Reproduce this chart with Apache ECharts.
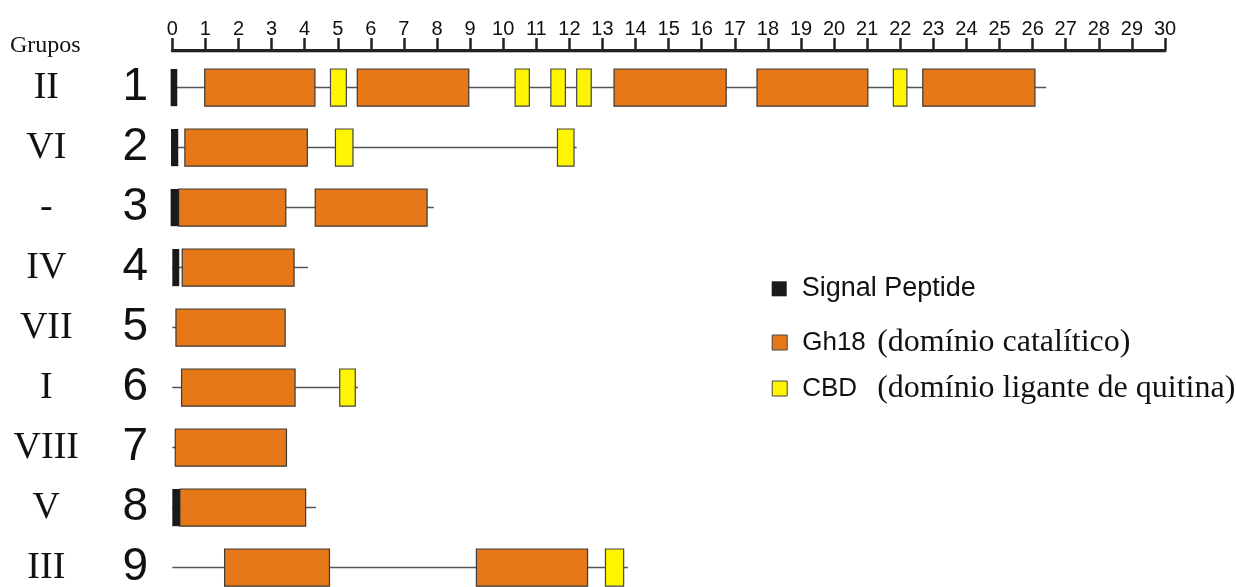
<!DOCTYPE html>
<html><head><meta charset="utf-8">
<script src="https://cdn.jsdelivr.net/npm/echarts@6/dist/echarts.min.js"></script>
<style>html,body{margin:0;padding:0;background:#fff}#c{width:1236px;height:587px}</style>
</head><body><div id="c"></div>
<script>
const proteins = ['1','2','3','4','5','6','7','8','9'];
const groups = ['II','VI','-','IV','VII','I','VIII','V','III'];
// [row, start, end]
const backbone = [[0,0,26.41],[1,0,12.22],[2,0,7.9],[3,0,4.1],[4,0,3.41],[5,0,5.61],[6,0,3.45],[7,0,4.34],[8,0,13.77]];
const signalPeptide = [[0,-0.05,0.15],[1,-0.04,0.18],[2,-0.05,0.19],[3,0,0.21],[7,0,0.23]];
const gh18 = [[0,0.98,4.31],[0,5.59,8.96],[0,13.35,16.74],[0,17.67,21.02],[0,22.68,26.07],
  [1,0.38,4.08],[2,0.19,3.43],[2,4.32,7.7],[3,0.3,3.68],[4,0.11,3.41],[5,0.28,3.71],
  [6,0.09,3.45],[7,0.23,4.03],[8,1.58,4.75],[8,9.19,12.55]];
const cbd = [[0,4.78,5.26],[0,10.36,10.79],[0,11.44,11.88],[0,12.22,12.66],[0,21.79,22.2],
  [1,4.93,5.46],[1,11.64,12.14],[5,5.06,5.53],[8,13.09,13.64]];

const ORANGE = '#E67818', YELLOW = '#FFF500', BLACK = '#1a1a1a';

function boxItem(params, api) {
  const row = api.value(0), s = api.value(1), e = api.value(2);
  const p0 = api.coord([s, row]), p1 = api.coord([e, row]);
  const h = api.size([0, 1])[1] * 0.62;
  return {type: 'rect', shape: {x: p0[0], y: p0[1] - h / 2, width: p1[0] - p0[0], height: h},
    style: api.style()};
}
function lineItem(params, api) {
  const row = api.value(0);
  const p0 = api.coord([api.value(1), row]), p1 = api.coord([api.value(2), row]);
  return {type: 'line', shape: {x1: p0[0], y1: p0[1], x2: p1[0], y2: p1[1]},
    style: {stroke: '#555', lineWidth: 1.5}};
}

const legendRich = {
  s: {fontFamily: 'Liberation Sans', fontSize: 27, color: '#111', lineHeight: 32, height: 32, padding: [0, 0, 0, 10]},
  a: {fontFamily: 'Liberation Sans', fontSize: 26, color: '#111', lineHeight: 32, height: 32, width: 75, padding: [0, 0, 0, 10]},
  b: {fontFamily: 'Liberation Serif', fontSize: 32, color: '#111', lineHeight: 32, height: 32}
};
const legendFmt = name => name === 'Signal Peptide' ? `{s|${name}}`
  : name === 'Gh18' ? `{a|Gh18}{b|(domínio catalítico)}` : `{a|CBD}{b|(domínio ligante de quitina)}`;
function mkLegend(item, top) {
  return {orient: 'vertical', left: 771.7, top: top, padding: 0, itemWidth: 15, itemHeight: 15,
    icon: 'rect', selectedMode: false, data: [item], formatter: legendFmt,
    textStyle: {color: '#111', rich: legendRich}};
}

const chart = echarts.init(document.getElementById('c'), null, {renderer: 'canvas'});
chart.setOption({
  animation: false,
  backgroundColor: '#fff',
  grid: {left: 172.3, width: 992.7, top: 57.6, height: 540, outerBoundsMode: 'none', containLabel: false},
  xAxis: {
    type: 'value', position: 'top', min: 0, max: 30, interval: 1, offset: 7.6,
    axisLine: {show: true, lineStyle: {color: '#222', width: 3, shadowColor: 'rgba(0,0,0,0.25)', shadowOffsetY: 1}},
    axisTick: {show: true, length: 12, lineStyle: {color: '#222', width: 2.5}},
    axisLabel: {margin: 10.5, fontFamily: 'Liberation Sans', fontSize: 20, color: '#111'},
    splitLine: {show: false}
  },
  yAxis: {
    type: 'category', data: proteins, inverse: true,
    axisLine: {show: false}, axisTick: {show: false}, splitLine: {show: false},
    axisLabel: {
      margin: 17,
      formatter: (v, i) => `{g|${groups[i]}}{n|${v}}`,
      rich: {
        g: {fontFamily: 'Liberation Serif', fontSize: 38, color: '#111', width: 138, align: 'center'},
        n: {fontFamily: 'Liberation Sans', fontSize: 46, color: '#111', width: 40, align: 'center'}
      }
    }
  },
  legend: [
    mkLegend({name: 'Signal Peptide', itemStyle: {color: BLACK, borderWidth: 0}}, 272.8),
    mkLegend({name: 'Gh18', itemStyle: {color: ORANGE, borderColor: '#444', borderWidth: 1}}, 326.5),
    mkLegend({name: 'CBD', itemStyle: {color: YELLOW, borderColor: '#444', borderWidth: 1}}, 372.5)
  ],
  graphic: [{type: 'text', left: 10, top: 34, style: {text: 'Grupos', font: '24px "Liberation Serif"', fill: '#111'}}],
  series: [
    {type: 'custom', name: 'backbone', renderItem: lineItem, data: backbone, encode: {x: [1, 2], y: 0}, z: 1},
    {type: 'custom', name: 'Gh18', renderItem: boxItem, data: gh18, encode: {x: [1, 2], y: 0}, z: 2,
      itemStyle: {color: ORANGE, borderColor: '#3a3a3a', borderWidth: 1.2}},
    {type: 'custom', name: 'CBD', renderItem: boxItem, data: cbd, encode: {x: [1, 2], y: 0}, z: 2,
      itemStyle: {color: YELLOW, borderColor: '#444', borderWidth: 1.2}},
    {type: 'custom', name: 'Signal Peptide', renderItem: boxItem, data: signalPeptide, encode: {x: [1, 2], y: 0}, z: 3,
      itemStyle: {color: BLACK, borderWidth: 0}}
  ]
});
</script></body></html>
